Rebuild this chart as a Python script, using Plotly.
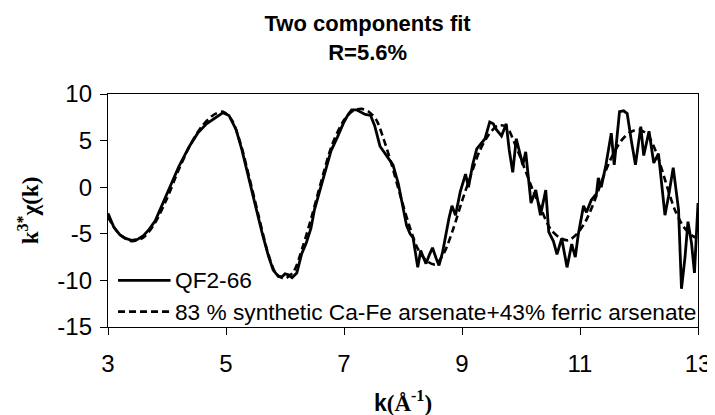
import plotly.graph_objects as go

# Experimental spectrum QF2-66 (k, k^3*chi)
k_exp = [3.00, 3.10, 3.20, 3.30, 3.40, 3.50, 3.60, 3.70, 3.80, 3.94, 4.05, 4.20, 4.38, 4.52, 4.67,
         4.80, 4.95, 5.05, 5.17, 5.27, 5.38, 5.50, 5.62, 5.72, 5.80, 5.89, 5.95, 6.00, 6.06,
         6.12, 6.20, 6.28, 6.36, 6.44, 6.50, 6.61, 6.70, 6.78, 6.89, 7.00, 7.07, 7.13, 7.21, 7.28,
         7.36, 7.45, 7.52, 7.61, 7.72, 7.83, 7.92, 8.00, 8.06, 8.12, 8.17, 8.25, 8.30, 8.35, 8.39,
         8.45, 8.50, 8.56, 8.61, 8.67, 8.72, 8.78, 8.83, 8.89, 8.97, 9.06, 9.11, 9.18, 9.25, 9.32,
         9.39, 9.47, 9.53, 9.58, 9.67, 9.75, 9.80, 9.86, 9.92, 10.03, 10.08, 10.17, 10.25, 10.33,
         10.42, 10.47, 10.55, 10.61, 10.69, 10.78, 10.86, 10.92, 10.97, 11.06, 11.11, 11.19, 11.28,
         11.31, 11.36, 11.44, 11.53, 11.58, 11.67, 11.74, 11.80, 11.87, 11.94, 12.03, 12.08, 12.17,
         12.25, 12.33, 12.44, 12.50, 12.58, 12.67, 12.72, 12.78, 12.83, 12.89, 12.94, 13.00]
chi_exp = [-2.8, -4.3, -5.1, -5.5, -5.7, -5.6, -5.2, -4.5, -3.6, -1.6, 0.0, 2.2, 4.4, 5.8, 6.8,
           7.4, 8.0, 7.7, 6.2, 4.0, 1.0, -2.0, -5.1, -7.4, -8.9, -9.6, -9.6, -9.3, -9.4,
           -9.7, -9.2, -7.2, -6.0, -4.4, -2.4, 0.0, 2.0, 3.9, 5.4, 7.0, 7.8, 8.3, 8.3, 8.1,
           7.8, 7.7, 6.6, 4.4, 3.4, 2.4, 0.4, -2.4, -4.1, -5.0, -5.4, -8.6, -6.8, -7.6, -8.2,
           -7.2, -6.5, -7.6, -8.4, -7.0, -5.1, -3.3, -2.0, -3.0, -0.5, 1.4, 0.0, 2.4, 4.1, 4.6,
           5.2, 7.0, 6.8, 6.2, 5.5, 6.8, 4.0, 1.6, 5.2, 2.4, 3.8, -1.7, -0.3, -3.0,
           -0.3, -4.8, -5.8, -7.2, -5.5, -8.6, -6.1, -7.5, -5.1, -2.0, -2.7, -1.4, -0.7,
           1.0, 0.0, 2.4, 5.8, 2.4, 8.1, 8.2, 7.9, 5.0, 2.4, 6.5, 3.4, 6.0,
           2.6, 3.6, -3.0, -1.0, 2.1, -2.4, -10.9, -7.5, -3.7, -6.0, -9.2, -1.7]

# Two-component fit
k_fit = [3.00, 3.20, 3.40, 3.60, 3.80, 4.00, 4.20, 4.40, 4.60, 4.80, 4.95, 5.10, 5.25, 5.40, 5.55,
         5.70, 5.85, 6.00, 6.15, 6.30, 6.45, 6.60, 6.80, 7.00, 7.15, 7.30, 7.42, 7.55, 7.67, 7.80,
         7.95, 8.10, 8.25, 8.40, 8.55, 8.70, 8.85, 9.00, 9.15, 9.30, 9.45, 9.60, 9.75, 9.90, 10.05,
         10.20, 10.35, 10.50, 10.65, 10.80, 10.95, 11.10, 11.25, 11.40, 11.55, 11.70, 11.85, 12.00,
         12.15, 12.30, 12.45, 12.60, 12.75, 12.90, 13.00]
chi_fit = [-3.2, -5.1, -5.8, -5.4, -3.8, -1.2, 1.9, 4.6, 6.6, 7.8, 8.1, 7.2, 4.6, 0.9, -3.0,
           -6.8, -9.3, -9.8, -9.0, -6.4, -3.2, 0.3, 4.6, 7.2, 8.2, 8.4, 8.1, 7.2, 5.2, 2.6,
           -0.8, -4.0, -6.6, -7.9, -8.3, -7.0, -4.5, -1.5, 1.3, 3.9, 5.6, 6.6, 6.5, 4.6, 2.2,
           -0.3, -2.5, -4.5, -5.4, -5.7, -5.0, -3.6, -1.4, 1.2, 3.4, 5.0, 5.9, 6.2,
           5.6, 3.6, 0.6, -2.3, -4.2, -5.2, -5.5]

x_ticks = [3, 5, 7, 9, 11, 13]
y_ticks = [-15, -10, -5, 0, 5, 10]
series_names = ["QF2-66", "83 % synthetic Ca-Fe arsenate+43% ferric arsenate"]

SANS = "Liberation Sans, Arial, sans-serif"
SERIF = "Liberation Serif, Times New Roman, serif"
DASH = "7px,4px"

fig = go.Figure()
fig.add_trace(go.Scatter(x=k_exp, y=chi_exp, mode="lines", name=series_names[0],
                         line=dict(color="black", width=2.8), showlegend=False))
fig.add_trace(go.Scatter(x=k_fit, y=chi_fit, mode="lines", name=series_names[1],
                         line=dict(color="black", width=2.6, dash=DASH, shape="spline", smoothing=0.8),
                         showlegend=False))

# Manual legend (line samples + labels) inside the plot, lower left
legend_rows = [(-10.0, "solid"), (-13.35, DASH)]
for (yy, dsh), name in zip(legend_rows, series_names):
    fig.add_shape(type="line", xref="x", yref="y", x0=3.17, x1=4.06, y0=yy, y1=yy,
                  line=dict(color="black", width=2.8, dash=dsh))
    fig.add_annotation(xref="x", yref="y", x=4.11, y=yy, text=name, showarrow=False,
                       xanchor="left", yanchor="middle", font=dict(family=SANS, size=22.7, color="black"))

fig.update_layout(
    width=715, height=415,
    margin=dict(l=100, r=15, t=86, b=86),
    paper_bgcolor="white", plot_bgcolor="white",
    title=dict(text="<b>Two components fit<br>R=5.6%</b>", x=0.503, xanchor="center",
               y=1 - 23 / 415, yanchor="middle", yref="container",
               font=dict(family=SANS, size=22, color="black")),
    xaxis=dict(range=[3, 13], tickvals=x_ticks, ticktext=[str(v) for v in x_ticks],
               ticks="outside", ticklen=7, tickwidth=1.4, tickcolor="black",
               showline=True, linecolor="black", linewidth=1.4, mirror=True,
               showgrid=False, zeroline=False, ticklabelstandoff=8,
               tickfont=dict(family=SANS, size=24, color="black"),
               title=dict(text="<b>k<span style='font-family:Liberation Serif'>(Å<sup>-1</sup>)</span></b>",
                          font=dict(family=SANS, size=23, color="black"), standoff=18)),
    yaxis=dict(range=[-15, 10], tickvals=y_ticks, ticktext=[str(v) for v in y_ticks],
               ticks="outside", ticklen=7, tickwidth=1.4, tickcolor="black",
               showline=True, linecolor="black", linewidth=1.4, mirror=True,
               showgrid=False, zeroline=False, ticklabelstandoff=3,
               tickfont=dict(family=SANS, size=24, color="black"),
               title=dict(text="<b>k<sup>3*</sup>χ(k)</b>",
                          font=dict(family=SERIF, size=23, color="black"), standoff=12)),
)

fig.write_html("out.html")
